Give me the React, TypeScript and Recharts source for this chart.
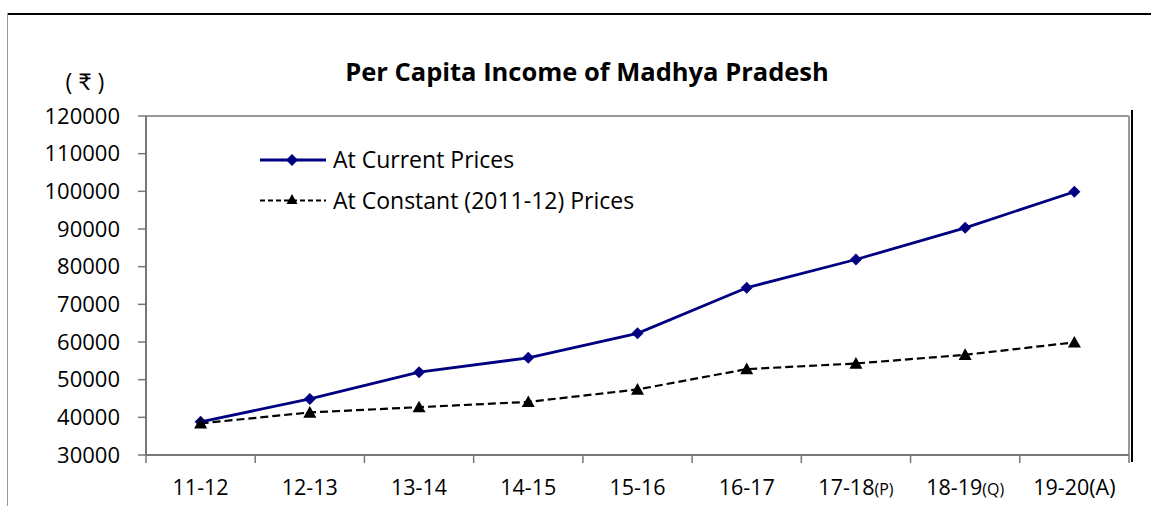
import React from 'react';
import { LineChart, Line, XAxis, YAxis, ReferenceLine, Legend } from 'recharts';

const categories = ['11-12', '12-13', '13-14', '14-15', '15-16', '16-17', '17-18', '18-19', '19-20'];
const categorySuffixes = ['', '', '', '', '', '', '(P)', '(Q)', '(A)'];
const currentPrices = [38800, 44900, 52000, 55800, 62300, 74400, 81900, 90300, 99900];
const constantPrices = [38400, 41300, 42700, 44100, 47400, 52800, 54300, 56600, 59900];
const yTicks = [30000, 40000, 50000, 60000, 70000, 80000, 90000, 100000, 110000, 120000];
const seriesNames = ['At Current Prices', 'At Constant (2011-12) Prices'];
const chartTitle = 'Per Capita Income of Madhya Pradesh';
const unitLabel = '( ₹ )';

const data = categories.map((c, i) => ({
  pos: i + 0.5,
  label: c,
  current: currentPrices[i],
  constant: constantPrices[i],
}));
const boundaryTicks = [...categories.map((_, i) => i), categories.length];
const centerTicks = categories.map((_, i) => i + 0.5);
const xTicks = [...boundaryTicks, ...centerTicks].sort((a, b) => a - b);

const FONT = '"Open Sans", Lato, "Noto Sans", "DejaVu Sans", sans-serif';
const NAVY = '#000080';

const Diamond = (props: any) => {
  const { cx, cy } = props;
  if (cx == null || cy == null) return null;
  const r = 6;
  return <polygon key={`d-${cx}`} points={`${cx},${cy - r} ${cx + r},${cy} ${cx},${cy + r} ${cx - r},${cy}`} fill={NAVY} />;
};

const Triangle = (props: any) => {
  const { cx, cy, size } = props;
  if (cx == null || cy == null) return null;
  const r = size || 6.5;
  return <polygon key={`t-${cx}`} points={`${cx},${cy - r} ${cx + r},${cy + r * 0.8} ${cx - r},${cy + r * 0.8}`} fill="#000" />;
};

const XTick = (props: any) => {
  const { x, y, payload } = props;
  const v = payload.value;
  if (Number.isInteger(v)) {
    return <line x1={x} x2={x} y1={y} y2={y + 8} stroke="#777" strokeWidth={1.5} />;
  }
  const idx = Math.floor(v);
  const suffix = categorySuffixes[idx];
  const small = suffix === '(P)' || suffix === '(Q)';
  return (
    <text x={x} y={y + 40} textAnchor="middle" fontFamily={FONT} fontSize={21.5} fill="#000">
      <tspan>{categories[idx]}</tspan>
      {suffix ? <tspan fontSize={small ? 16 : 21.5}>{suffix}</tspan> : null}
    </text>
  );
};

const LegendContent = (props: any) => {
  const payload = props.payload || [];
  const ordered = seriesNames.map((n) => payload.find((p: any) => p.value === n)).filter(Boolean);
  return (
    <svg width={440} height={90} style={{ overflow: 'visible' }}>
      {ordered.map((p: any, i: number) => {
        const yy = 20 + i * 40.5;
        const dashed = i === 1;
        return (
          <g key={p.value}>
            <line x1={5} x2={71} y1={yy} y2={yy} stroke={dashed ? '#000' : NAVY} strokeWidth={dashed ? 2.2 : 2.8} strokeDasharray={dashed ? '5 3' : undefined} />
            {dashed ? <Triangle cx={37} cy={yy - 1} size={5.5} /> : <Diamond cx={37} cy={yy} />}
            <text x={78} y={yy + 8} fontFamily={FONT} fontSize={23} fill="#000">{p.value}</text>
          </g>
        );
      })}
    </svg>
  );
};

export default function App() {
  return (
    <div style={{ position: 'absolute', left: 0, top: 0, width: 1151, height: 506, background: '#fff' }}>
      <div style={{ position: 'absolute', left: 7, top: 13, width: 1144, height: 2, background: '#000' }} />
      <div style={{ position: 'absolute', left: 7, top: 13, width: 1, height: 493, background: '#999' }} />
      <div style={{ position: 'absolute', left: 1131, top: 110, width: 2, height: 352, background: '#000' }} />
      <div style={{ position: 'absolute', left: 0, top: 54, width: 1174, textAlign: 'center', fontFamily: FONT, fontSize: 25.5, fontWeight: 700, color: '#000', lineHeight: '34px' }}>{chartTitle}</div>
      <div style={{ position: 'absolute', left: 45, top: 66, width: 80, textAlign: 'center', fontFamily: FONT, fontSize: 23, color: '#000', lineHeight: '30px' }}>{unitLabel}</div>
      <LineChart width={1151} height={506} data={data} margin={{ top: 116, right: 22, bottom: 0, left: 0 }}>
        <XAxis
          dataKey="pos"
          type="number"
          domain={[0, categories.length]}
          ticks={xTicks}
          interval={0}
          height={51}
          tickSize={0}
          tickMargin={0}
          tickLine={false}
          axisLine={{ stroke: '#777', strokeWidth: 2 }}
          tick={<XTick />}
        />
        <YAxis
          type="number"
          domain={[30000, 120000]}
          ticks={yTicks}
          interval={0}
          width={146}
          tickSize={8}
          tickMargin={18}
          axisLine={{ stroke: '#777', strokeWidth: 2 }}
          tickLine={{ stroke: '#777', strokeWidth: 1.5 }}
          tick={{ fontFamily: FONT, fontSize: 22, fill: '#000' }}
        />
        <ReferenceLine y={120000} stroke="#999" strokeWidth={2} />
        <ReferenceLine x={categories.length} stroke="#999" strokeWidth={2} />
        <Legend
          layout="horizontal"
          verticalAlign="middle"
          align="center"
          content={<LegendContent />}
          wrapperStyle={{ position: 'absolute', left: 255, top: 140, width: 440, height: 90 }}
        />
        <Line
          name={seriesNames[0]}
          dataKey="current"
          stroke={NAVY}
          strokeWidth={2.8}
          dot={<Diamond />}
          activeDot={false}
          isAnimationActive={false}
        />
        <Line
          name={seriesNames[1]}
          dataKey="constant"
          stroke="#000"
          strokeWidth={2.2}
          strokeDasharray="8 4"
          dot={<Triangle />}
          activeDot={false}
          isAnimationActive={false}
        />
      </LineChart>
    </div>
  );
}
